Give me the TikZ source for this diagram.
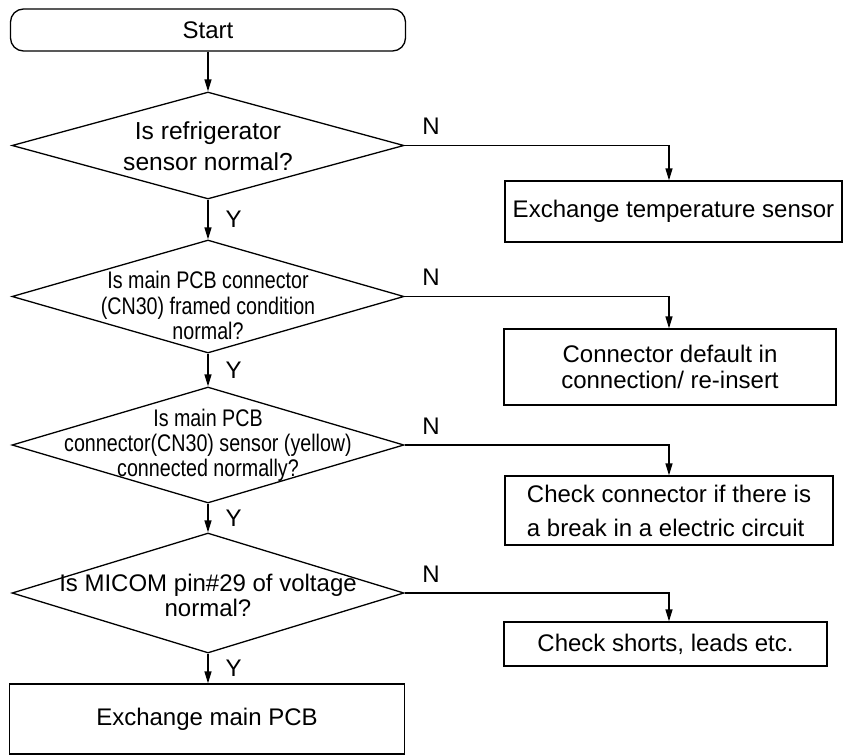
\documentclass[tikz,border=0pt]{standalone}
\usepackage{fontspec}
\setmainfont{Liberation Sans}
\newfontfamily\etroit[FakeStretch=0.82]{Liberation Sans}
\usetikzlibrary{shapes.geometric,arrows.meta}

\tikzset{
	boite/.style={draw,rectangle,inner sep=0pt,align=center},
	debut/.style={boite,rounded corners=6.5pt},
	test/.style={draw,diamond,inner sep=0pt,minimum width=196pt},
	fleche/.style={-{Triangle[width=3.5pt,length=6pt]}},
	oui/.style={anchor=west,inner sep=0pt,xshift=8.5pt},
	non/.style={anchor=south west,inner sep=0pt,xshift=8.5pt,yshift=5pt}
}

\begin{document}
\begin{tikzpicture}[x=0.5pt,y=-0.5pt,line width=0.65pt,font=\fontsize{12}{14}\selectfont]
	% Cadre de l'image
	\useasboundingbox (0,0) rectangle (843,756);
	\coordinate (colN) at (669,0);
	%
	% Colonne principale
	\node[debut,minimum width=197.5pt,minimum height=21pt] (start) at (208,30) {Start};
	\node[test,minimum height=53.5pt,
		label={[align=center,yshift=-0.5pt,font=\fontsize{12.3}{15.5}\selectfont]center:{Is refrigerator\\sensor normal?}}] (q1) at (208,145.5) {};
	\node[test,minimum height=56.5pt,
		label={[align=center,yshift=-4.5pt,font=\etroit\fontsize{12}{12.7}\selectfont]center:{Is main PCB connector\\(CN30) framed condition\\normal?}}] (q2) at (208,296.5) {};
	\node[test,minimum height=58pt,
		label={[align=center,yshift=0pt,font=\etroit\fontsize{12}{12.5}\selectfont]center:{Is main PCB\\connector(CN30) sensor (yellow)\\connected normally?}}] (q3) at (208,445) {};
	\node[test,minimum height=60pt,
		label={[align=center,yshift=-1pt,font=\fontsize{12}{12.5}\selectfont]center:{Is MICOM pin\#29 of voltage\\normal?}}] (q4) at (208,593) {};
	\node[boite,minimum width=197.5pt,minimum height=35pt] (fin) at (207,719) {Exchange main PCB};
	%
	% Colonne de droite
	\node[boite,minimum width=168.5pt,minimum height=30.5pt] (b1) at (673.5,211.5) {Exchange temperature sensor};
	\node[boite,minimum width=166pt,minimum height=38pt,font=\fontsize{12}{13}\selectfont] (b2) at (670,367) {Connector default in\\connection/ re-insert};
	\node[boite,align=left,minimum width=164pt,minimum height=34.5pt,font=\fontsize{12}{17}\selectfont] (b3) at (669,510.5) {Check connector if there is\\a break in a electric circuit};
	\node[boite,minimum width=161.5pt,minimum height=22pt] (b4) at (665.5,644) {Check shorts, leads etc.};
	%
	% Liaisons
	\draw[fleche] (start) -- (q1);
	\foreach \a/\b in {q1/q2,q2/q3,q3/q4,q4/fin}{
		\draw[fleche] (\a.south) -- node[oui] {Y} (\a.south |- \b.north);
	};
	\foreach \a/\b in {q1/b1,q2/b2,q3/b3,q4/b4}{
		\draw[fleche] (\a.east) node[non] {N} -| (colN |- \b.north);
	};
\end{tikzpicture}
\end{document}
